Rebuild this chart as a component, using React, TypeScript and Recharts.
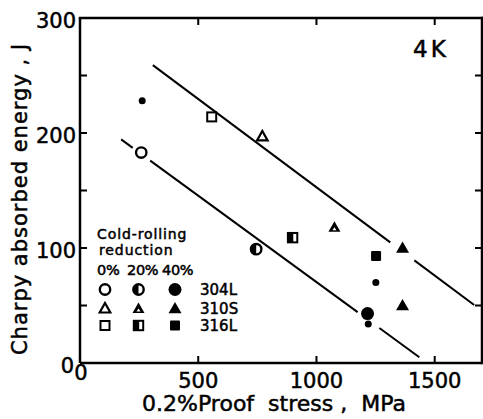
import React from 'react';
import { ScatterChart, Scatter, XAxis, YAxis } from 'recharts';

// ---- data ----
const xTicks = [0, 500, 1000, 1500];
const xInnerTicks = [500, 1000, 1500];
const yTicks = [0, 50, 100, 150, 200, 250, 300];
const yInnerTicks = [50, 100, 150, 200, 250];
const X_MAX = 1700;
const Y_MAX = 300;

const s304L_0 = [{ x: 259, y: 183 }];
const s304L_20 = [{ x: 745, y: 99 }];
const s304L_40 = [{ x: 1216, y: 43 }];
const s310S_0 = [{ x: 771, y: 197 }];
const s310S_20 = [{ x: 1076, y: 118 }];
const s310S_40 = [{ x: 1364, y: 100 }, { x: 1364, y: 50 }];
const s316L_0 = [{ x: 557, y: 214 }];
const s316L_20 = [{ x: 899, y: 109 }];
const s316L_40 = [{ x: 1252, y: 93 }];
const smallDots = [{ x: 263, y: 228 }, { x: 1251, y: 70 }, { x: 1219, y: 34 }];

const upperLineA = [{ x: 308, y: 259 }, { x: 1312, y: 104.9 }];
const upperLineB = [{ x: 1414, y: 89.2 }, { x: 1667, y: 50.4 }];
const lowerLineA = [{ x: 174, y: 194.5 }, { x: 223, y: 187.1 }];
const lowerLineB = [{ x: 297, y: 176.0 }, { x: 1174, y: 44.2 }];
const lowerLineC = [{ x: 1266, y: 30.4 }, { x: 1435, y: 5 }];

const legendCols = ['0%', '20%', '40%'];
const legendRows = ['304L', '310S', '316L'];
const xTitleText = '0.2%Proof\u00A0\u00A0stress\u00A0,\u00A0\u00A0MPa';
const yTitleText = 'Charpy absorbed energy\u00A0,\u00A0J';
const panelLabel = '4K';

const FONT = 'DejaVu Sans';
const BOLDEN = { stroke: '#000', strokeWidth: 0.5 };

// chart geometry (styling)
const W = 483;
const H = 419;
const M_TOP = 18;
const M_RIGHT = 1;
const Y_AXIS_W = 80;
const X_AXIS_H = 56;
const PLOT_L = Y_AXIS_W;
const PLOT_R = W - M_RIGHT;
const PLOT_T = M_TOP;
const PLOT_B = H - X_AXIS_H;
const TL = 7;
const px = (v: number) => PLOT_L + (v / X_MAX) * (PLOT_R - PLOT_L);
const py = (v: number) => PLOT_B - (v / Y_MAX) * (PLOT_B - PLOT_T);

type Kind =
  | 'c0' | 'c20' | 'c40' | 't0' | 't20' | 't40' | 'q0' | 'q20' | 'q40' | 'dot';

function Marker({ cx, cy, kind }: { cx: number; cy: number; kind: Kind }) {
  if (cx == null || cy == null) return null;
  switch (kind) {
    case 'c0':
      return <circle cx={cx} cy={cy} r={5.2} fill="#fff" stroke="#000" strokeWidth={2.4} />;
    case 'c20':
      return (
        <g>
          <circle cx={cx} cy={cy} r={5.2} fill="#fff" stroke="#000" strokeWidth={2.4} />
          <path d={`M${cx},${cy - 5.2} A5.2,5.2 0 0 0 ${cx},${cy + 5.2} Z`} fill="#000" />
        </g>
      );
    case 'c40':
      return <circle cx={cx} cy={cy} r={6.5} fill="#000" />;
    case 'dot':
      return <circle cx={cx} cy={cy} r={3.5} fill="#000" />;
    case 't0':
      return (
        <polygon
          points={`${cx},${cy - 5.5} ${cx - 5.3},${cy + 4} ${cx + 5.3},${cy + 4}`}
          fill="#fff" stroke="#000" strokeWidth={2.2} strokeLinejoin="miter"
        />
      );
    case 't20':
      return (
        <g>
          <polygon
            points={`${cx},${cy - 6} ${cx - 6},${cy + 4.5} ${cx + 6},${cy + 4.5}`}
            fill="#000"
          />
          <polygon points={`${cx},${cy} ${cx - 2},${cy + 3} ${cx + 2},${cy + 3}`} fill="#fff" />
        </g>
      );
    case 't40':
      return (
        <polygon
          points={`${cx},${cy - 6.5} ${cx - 6.5},${cy + 4.8} ${cx + 6.5},${cy + 4.8}`}
          fill="#000"
        />
      );
    case 'q0':
      return (
        <rect x={cx - 4.5} y={cy - 4.5} width={9} height={9} fill="#fff" stroke="#000" strokeWidth={2} />
      );
    case 'q20':
      return (
        <g>
          <rect x={cx - 4.7} y={cy - 4.7} width={9.4} height={9.4} fill="#fff" stroke="#000" strokeWidth={2} />
          <rect x={cx - 4.7} y={cy - 4.7} width={5.4} height={9.4} fill="#000" />
        </g>
      );
    case 'q40':
      return <rect x={cx - 5} y={cy - 5} width={10} height={10} rx={1} fill="#000" />;
  }
  return null;
}

const shapeOf = (kind: Kind) => (p: any) => <Marker cx={p.cx} cy={p.cy} kind={kind} />;
const noShape = () => <g />;

const legendKinds: Kind[][] = [
  ['c0', 'c20', 'c40'],
  ['t0', 't20', 't40'],
  ['q0', 'q20', 'q40'],
];

// frame + inward ticks as filled rectangles
function Frame() {
  const rects: { x: number; y: number; w: number; h: number }[] = [];
  rects.push({ x: PLOT_L - 1.25, y: PLOT_T - 1.25, w: PLOT_R - PLOT_L + 2.5, h: 2.5 });
  rects.push({ x: PLOT_R - 1.25, y: PLOT_T - 1.25, w: 2.5, h: PLOT_B - PLOT_T + 2.5 });
  xInnerTicks.forEach((t) => {
    rects.push({ x: px(t) - 1, y: PLOT_B - TL, w: 2, h: TL });
    rects.push({ x: px(t) - 1, y: PLOT_T, w: 2, h: TL });
  });
  yInnerTicks.forEach((t) => {
    rects.push({ x: PLOT_L, y: py(t) - 1, w: TL, h: 2 });
    rects.push({ x: PLOT_R - TL, y: py(t) - 1, w: TL, h: 2 });
  });
  return (
    <g>
      {rects.map((r, i) => (
        <rect key={i} x={r.x} y={r.y} width={r.w} height={r.h} fill="#000" />
      ))}
    </g>
  );
}

function Overlay() {
  const colX = [105, 138.5, 175];
  const rowY = [289.5, 308.5, 325.5];
  const pctX = [97, 127, 162];
  return (
    <svg
      width={W}
      height={H}
      style={{ position: 'absolute', left: 0, top: 0, pointerEvents: 'none' }}
    >
      <Frame />
      <g fontFamily={FONT} fill="#000">
        <text x={413} y={56.5} fontSize={23} letterSpacing={3} {...BOLDEN}>{panelLabel}</text>
        <text x={97} y={238.5} fontSize={14} letterSpacing={0.9} {...BOLDEN}>Cold-rolling</text>
        <text x={99} y={255} fontSize={14} letterSpacing={0.9} {...BOLDEN}>reduction</text>
        {legendCols.map((c, i) => (
          <text key={c} x={pctX[i]} y={275} fontSize={14.5} letterSpacing={-0.3} {...BOLDEN}>{c}</text>
        ))}
        {legendRows.map((r, ri) => (
          <g key={r}>
            {legendKinds[ri].map((k, ci) => (
              <Marker key={k} cx={colX[ci]} cy={rowY[ri]} kind={k} />
            ))}
            <text x={200} y={rowY[ri] + 5.5} fontSize={15} {...BOLDEN}>{r}</text>
          </g>
        ))}
        <text x={274} y={411} textAnchor="middle" fontSize={22} {...BOLDEN}>{xTitleText}</text>
        <text
          x={26.5}
          y={199}
          transform="rotate(-90 26.5 199)"
          textAnchor="middle"
          fontSize={21}
          letterSpacing={1}
          {...BOLDEN}
        >
          {yTitleText}
        </text>
      </g>
    </svg>
  );
}

const BottomLabel = (p: any) => {
  const v = p.payload.value;
  const first = v === 0;
  return (
    <text
      x={p.x + (first ? 1 : 0)}
      y={p.y + (first ? 17 : 25)}
      textAnchor="middle"
      fontFamily={FONT}
      fontSize={21}
      fill="#000"
      {...BOLDEN}
    >
      {v}
    </text>
  );
};
const LeftLabel = (p: any) => {
  const v = p.payload.value;
  if (v % 100 !== 0) return <g />;
  return (
    <text x={p.x - (v === 0 ? 2 : 0)} y={p.y + 9.5} textAnchor="end" fontFamily={FONT} fontSize={21} fill="#000" {...BOLDEN}>
      {v}
    </text>
  );
};

const axisLine = { stroke: '#000', strokeWidth: 2.5 };

export default function App() {
  return (
    <div style={{ position: 'absolute', left: 0, top: 0, width: W, height: H, background: '#fff', overflow: 'hidden' }}>
      <ScatterChart width={W} height={H} margin={{ top: M_TOP, right: M_RIGHT, bottom: 0, left: 0 }}>
        <XAxis
          type="number"
          dataKey="x"
          domain={[0, X_MAX]}
          ticks={xTicks}
          interval={0}
          height={X_AXIS_H}
          axisLine={axisLine}
          tickLine={false}
          tickSize={-7}
          tickMargin={7}
          tick={BottomLabel}
        />
        <YAxis
          type="number"
          dataKey="y"
          domain={[0, Y_MAX]}
          ticks={yTicks}
          interval={0}
          width={Y_AXIS_W}
          axisLine={axisLine}
          tickLine={false}
          tickSize={-7}
          tickMargin={11}
          tick={LeftLabel}
        />

        <Scatter data={upperLineA} line={{ stroke: '#000', strokeWidth: 2 }} shape={noShape} isAnimationActive={false} />
        <Scatter data={upperLineB} line={{ stroke: '#000', strokeWidth: 2 }} shape={noShape} isAnimationActive={false} />
        <Scatter data={lowerLineA} line={{ stroke: '#000', strokeWidth: 2 }} shape={noShape} isAnimationActive={false} />
        <Scatter data={lowerLineB} line={{ stroke: '#000', strokeWidth: 2 }} shape={noShape} isAnimationActive={false} />
        <Scatter data={lowerLineC} line={{ stroke: '#000', strokeWidth: 2 }} shape={noShape} isAnimationActive={false} />

        <Scatter data={s304L_0} shape={shapeOf('c0')} isAnimationActive={false} />
        <Scatter data={s304L_20} shape={shapeOf('c20')} isAnimationActive={false} />
        <Scatter data={s304L_40} shape={shapeOf('c40')} isAnimationActive={false} />
        <Scatter data={s310S_0} shape={shapeOf('t0')} isAnimationActive={false} />
        <Scatter data={s310S_20} shape={shapeOf('t20')} isAnimationActive={false} />
        <Scatter data={s310S_40} shape={shapeOf('t40')} isAnimationActive={false} />
        <Scatter data={s316L_0} shape={shapeOf('q0')} isAnimationActive={false} />
        <Scatter data={s316L_20} shape={shapeOf('q20')} isAnimationActive={false} />
        <Scatter data={s316L_40} shape={shapeOf('q40')} isAnimationActive={false} />
        <Scatter data={smallDots} shape={shapeOf('dot')} isAnimationActive={false} />
      </ScatterChart>
      <Overlay />
    </div>
  );
}
